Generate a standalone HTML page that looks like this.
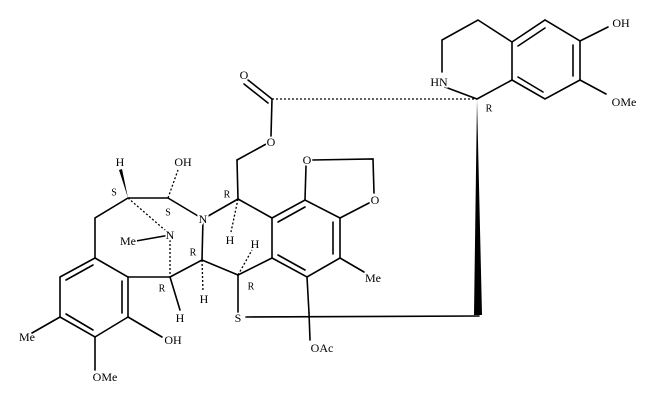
<!DOCTYPE html>
<html><head><meta charset="utf-8"><style>
html,body{margin:0;padding:0;background:#fff;}
svg{display:block;}
text{font-family:"Liberation Serif",serif;font-size:12px;fill:#000;stroke:#fff;stroke-width:3px;paint-order:stroke;text-anchor:middle;dominant-baseline:central;}
text.s{font-size:10px;}
</style></head><body>
<svg width="663" height="402" viewBox="0 0 663 402" xmlns="http://www.w3.org/2000/svg">
<g stroke="#000" stroke-width="1.6" fill="none" stroke-linecap="round">
<!-- left aromatic ring -->
<polyline points="95,258 128,277 128,317 95,337 60,317 60,277 95,258"/>
<line x1="93" y1="265" x2="66" y2="280"/>
<line x1="122" y1="281" x2="122" y2="313"/>
<line x1="93" y1="330" x2="66" y2="314"/>
<line x1="60" y1="317" x2="32" y2="333"/>
<line x1="95" y1="337" x2="95" y2="370"/>
<line x1="128" y1="317" x2="162" y2="337"/>
<!-- 7-ring -->
<polyline points="95,258 95,218 128,198 168,198 203,219"/>
<line x1="128" y1="277" x2="170" y2="277"/>
<polyline points="170,277 202,260 238,275"/>
<line x1="202" y1="260" x2="203" y2="219"/>
<line x1="203" y1="219" x2="238" y2="199"/>
<line x1="170" y1="235" x2="136" y2="241"/>
<line x1="170" y1="277" x2="180" y2="310"/>
<line x1="238" y1="275" x2="238" y2="312"/>
<line x1="238" y1="275" x2="272" y2="258"/>
<line x1="238" y1="199" x2="272" y2="218"/>
<line x1="238" y1="199" x2="237" y2="160"/>
<line x1="237" y1="160" x2="268" y2="143"/>
<!-- benzo ring -->
<polyline points="272,218 305,200 340,218 340,258 307,277 272,258 272,218"/>
<line x1="278" y1="222" x2="305" y2="207"/>
<line x1="333" y1="222" x2="333" y2="254"/>
<line x1="305" y1="270" x2="278" y2="255"/>
<line x1="305" y1="200" x2="306" y2="166"/>
<polyline points="312,160 373,159 374,193"/>
<line x1="340" y1="218" x2="369" y2="203"/>
<line x1="340" y1="258" x2="364" y2="272"/>
<line x1="307" y1="277" x2="309" y2="313"/>
<line x1="309" y1="313" x2="310" y2="340"/>
<line x1="246" y1="317" x2="479" y2="316"/>
<!-- ester -->
<line x1="271" y1="136" x2="272" y2="99"/>
<line x1="272" y1="99" x2="248" y2="80"/>
<line x1="268" y1="103" x2="244" y2="84"/>
<!-- isoquinoline -->
<polyline points="445,87 477,99 512,80 512,42 478,20 442,40 442,72"/>
<polyline points="512,42 545,20 580,41 580,80 545,99 512,80"/>
<line x1="518" y1="46" x2="545" y2="28"/>
<line x1="573" y1="45" x2="573" y2="76"/>
<line x1="543" y1="92" x2="518" y2="77"/>
<line x1="580" y1="41" x2="608" y2="27"/>
<line x1="580" y1="80" x2="606" y2="94"/>
</g>
<!-- hashed bonds -->
<g stroke="#000" stroke-width="1.3" stroke-dasharray="2,2" fill="none">
<line x1="272" y1="99" x2="477" y2="99"/>
<line x1="128" y1="198" x2="166" y2="231"/>
<line x1="170" y1="240" x2="170" y2="277"/>
<line x1="168" y1="198" x2="178" y2="170"/>
<line x1="202" y1="260" x2="203" y2="292"/>
<line x1="238" y1="199" x2="231" y2="232"/>
<line x1="238" y1="275" x2="252" y2="250"/>
</g>
<!-- wedges -->
<polygon points="477,99 474,315 482,315" fill="#000"/>
<polygon points="128,198 119,170 122,169" fill="#000"/>
<!-- labels -->
<text x="120" y="162">H</text>
<text x="183" y="162">OH</text>
<text class="s" x="114" y="193">S</text>
<text class="s" x="168" y="213">S</text>
<text x="203" y="219">N</text>
<text x="170" y="235">N</text>
<text x="128" y="241">Me</text>
<text class="s" x="227" y="195">R</text>
<text x="230" y="240">H</text>
<text class="s" x="193" y="253">R</text>
<text class="s" x="162" y="289">R</text>
<text x="180" y="318">H</text>
<text x="204" y="299">H</text>
<text x="255" y="244">H</text>
<text class="s" x="251" y="287">R</text>
<text x="238" y="318">S</text>
<text x="322" y="348">OAc</text>
<text x="373" y="278">Me</text>
<text x="27" y="337">Me</text>
<text x="105" y="377">OMe</text>
<text x="173" y="340">OH</text>
<text x="271" y="142">O</text>
<text x="244" y="75">O</text>
<text x="307" y="160">O</text>
<text x="375" y="200">O</text>
<text x="439" y="82">HN</text>
<text class="s" x="489" y="109">R</text>
<text x="621" y="23">OH</text>
<text x="624" y="102">OMe</text>
</svg>
</body></html>
